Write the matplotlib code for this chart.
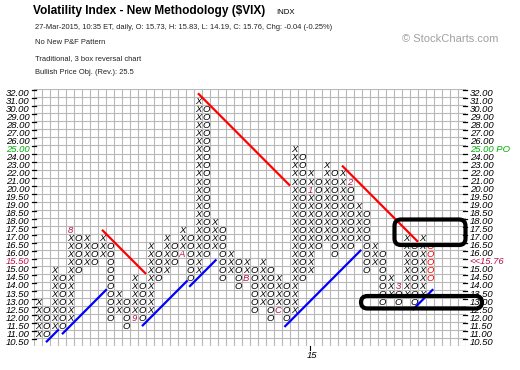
import matplotlib
matplotlib.use("Agg")
import matplotlib.pyplot as plt
from matplotlib.patches import FancyBboxPatch
from matplotlib import font_manager

# ---------------- data ----------------
levels = [32, 31, 30, 29, 28, 27, 26, 25, 24, 23, 22, 21, 20,
          19.5, 19, 18.5, 18, 17.5, 17, 16.5, 16, 15.5, 15, 14.5,
          14, 13.5, 13, 12.5, 12, 11.5, 11, 10.5]
col_kind = "XO" * 25
col_high = [13, 12.5, 15, 14.5, 17.5, 17, 17, 16.5, 17, 16.5,
            13.5, 13, 14.5, 14, 16.5, 16, 17, 16.5, 17.5, 17,
            31, 30, 18, 17.5, 16, 15.5, 15.5, 15, 15.5, 15,
            14.5, 14, 25, 24, 22, 21, 23, 22, 22, 21,
            19, 18.5, 16.5, 16, 14.5, 14, 17, 16.5, 17, 16.5]
col_low = [11, 11, 11.5, 11.5, 12, 15, 15.5, 15.5, 16, 12,
           12.5, 11.5, 12, 12, 12.5, 14.5, 15, 15.5, 16, 14.5,
           15, 16, 16.5, 14.5, 15, 14, 14.5, 12.5, 13, 12,
           12.5, 12, 12.5, 14.5, 15, 16.5, 17, 16, 16.5, 16.5,
           17, 15, 15.5, 13, 13.5, 13, 13.5, 13, 13.5, 14.5]
month_marks = [("8", 4, 17.5), ("9", 12, 12.0), ("A", 18, 16.0), ("B", 26, 14.5),
               ("C", 30, 12.5), ("1", 34, 20.0), ("2", 39, 21.0), ("3", 45, 14.0)]
# trend lines in box units (column, row)
red_lines = [(8.0, 17.0, 13.5, 22.5), (20.0, 0.0, 31.5, 11.5), (38.0, 9.0, 47.5, 18.5)]
blue_lines = [(1.0, 31.0, 2.6, 29.4), (3.0, 30.0, 8.6, 24.4), (13.0, 29.0, 18.7, 23.3),
              (18.9, 24.1, 22.3, 20.7), (30.8, 29.1, 40.4, 19.5), (46.8, 27.0, 49.4, 24.4)]
n_cols = 54
last_price = 15.76
price_obj = 25.0
x_tick_label = ("15", 34)

names = {f.name for f in font_manager.fontManager.ttflist}
narrow = "Liberation Sans Narrow" if "Liberation Sans Narrow" in names else None

W, H = 520, 370
fig = plt.figure(figsize=(W / 100, H / 100), dpi=100)
fig.patch.set_facecolor("white")

gx0, gx1 = 34, 466
gy0, gy1 = 89.3, 346.2
ax = fig.add_axes([gx0 / W, 1 - gy1 / H, (gx1 - gx0) / W, (gy1 - gy0) / H])
ax.set_xlim(-0.5, n_cols - 0.5)
ax.set_ylim(len(levels) - 0.5, -0.5)
ax.set_xticks([])
ax.set_yticks([])
for s in ax.spines.values():
    s.set_visible(False)
gridc = "#b8b8b8"
for i in range(n_cols + 1):
    ax.axvline(i - 0.5, color=gridc, lw=0.8, zorder=0)
for j in range(len(levels) + 1):
    ax.axhline(j - 0.5, color=gridc, lw=0.8, zorder=0)

row_of = {p: i for i, p in enumerate(levels)}
marks = {(c, row_of[p]): ch for ch, c, p in month_marks}
xo_font = dict(fontsize=6.8, style="italic", family="Liberation Sans",
               ha="center", va="center")
for c, (k, hi, lo) in enumerate(zip(col_kind, col_high, col_low)):
    r0, r1 = row_of[hi], row_of[lo]
    last = c == len(col_kind) - 1
    for r in range(r0, r1 + 1):
        if (c, r) in marks:
            ax.text(c, r + 0.05, marks[(c, r)], color="#b8104a", **xo_font)
        else:
            ax.text(c, r + 0.05, k, color="red" if last else "black", **xo_font)

for x0, y0, x1, y1 in red_lines:
    ax.plot([x0, x1], [y0, y1], color="#ff0000", lw=1.6, zorder=3, solid_capstyle="butt")
for x0, y0, x1, y1 in blue_lines:
    ax.plot([x0, x1], [y0, y1], color="#0000ff", lw=1.6, zorder=3, solid_capstyle="butt")

# price labels and ticks
lab_font = dict(fontsize=6.8, style="italic", family="Liberation Sans", va="center")
cur_row = min(i for i, p in enumerate(levels) if p <= last_price)
for i, p in enumerate(levels):
    y = i
    lc = "#00b000" if p == price_obj else "black"
    left_c = "#b8104a" if i == cur_row else lc
    ax.text(-1.1, y, f"{p:.2f}", ha="right", color=left_c, clip_on=False, **lab_font)
    if i == cur_row:
        rt, rc = f"<<{last_price:.2f}", "#b8104a"
    elif p == price_obj:
        rt, rc = f"{p:.2f} PO", lc
    else:
        rt, rc = f"{p:.2f}", lc
    ax.text(n_cols - 0.5 + 0.45, y, rt, ha="left", color=rc, clip_on=False, **lab_font)
    ax.plot([-0.75, -0.25], [y - 0.4, y - 0.4], color="black", lw=0.9, clip_on=False)
    ax.plot([n_cols - 0.9, n_cols - 0.4], [y - 0.4, y - 0.4], color="black", lw=0.9, clip_on=False)

ax.plot([x_tick_label[1], x_tick_label[1]], [len(levels) - 0.5, len(levels)], color="black",
        lw=0.8, clip_on=False)
ax.text(x_tick_label[1] + 0.2, len(levels) + 0.6, x_tick_label[0], ha="center", va="center",
        clip_on=False, **{k: v for k, v in lab_font.items() if k != "va"})

# overlay in pixel units for header and annotations
ov = fig.add_axes([0, 0, 1, 1], zorder=10)
ov.set_xlim(0, W)
ov.set_ylim(H, 0)
ov.axis("off")
ov.patch.set_alpha(0)

ov.text(33, 11, "Volatility Index - New Methodology ($VIX)", fontsize=8.55, weight="bold",
        family="Liberation Sans", va="center", ha="left")
ov.text(276, 12, "INDX", fontsize=5.6, family="Liberation Sans", va="center", ha="left")
if narrow:
    small = dict(fontsize=6.7, family=narrow, va="center", ha="left", color="#222222")
else:
    small = dict(fontsize=5.45, family="Liberation Sans", va="center", ha="left", color="#222222")
ov.text(35, 27.5, "27-Mar-2015, 10:35 ET, daily, O: 15.73, H: 15.83, L: 14.19, C: 15.76, Chg: -0.04 (-0.25%)", **small)
ov.text(35, 42, "No New P&F Pattern", **small)
ov.text(35, 58.5, "Traditional, 3 box reversal chart", **small)
ov.text(35, 73, "Bullish Price Obj. (Rev.): 25.5", **small)
ov.text(402, 38.5, "\u00a9 StockCharts.com", fontsize=8, family="Liberation Sans",
        color="#a0a0a0", va="center", ha="left")

for (x0, y0, x1, y1) in [(394.5, 219.5, 465.5, 245), (361, 296, 482, 308.5)]:
    ov.add_patch(FancyBboxPatch((x0, y0), x1 - x0, y1 - y0,
                                boxstyle="round,pad=0,rounding_size=6.5",
                                fill=False, ec="black", lw=3.0))

fig.savefig("out.png", dpi=100, facecolor="white")
